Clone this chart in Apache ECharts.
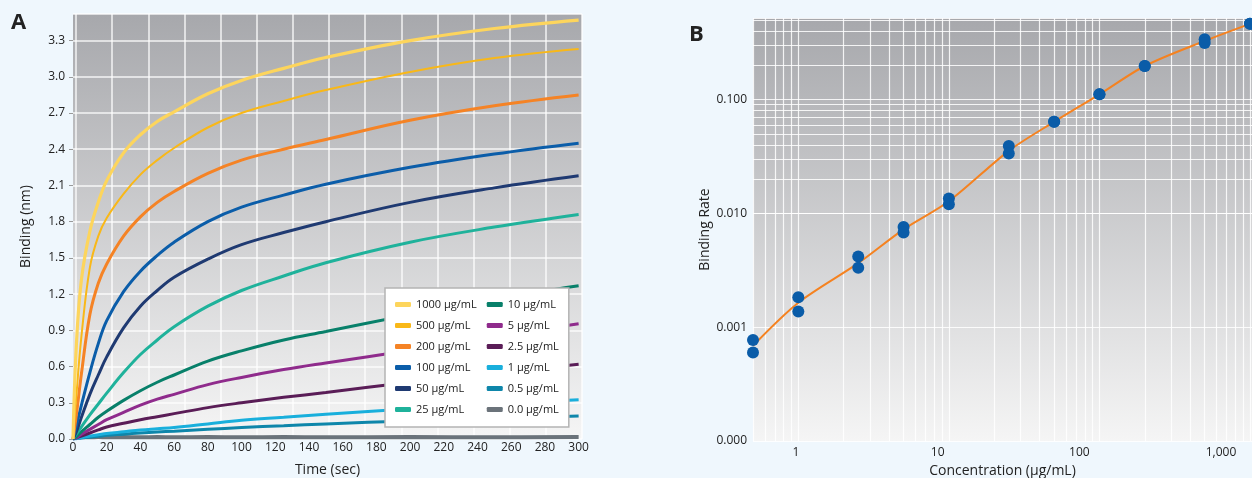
<!DOCTYPE html>
<html>
<head>
<meta charset="utf-8">
<script src="https://cdn.jsdelivr.net/npm/echarts@6.0.0/dist/echarts.min.js"></script>
<style>
  html, body { margin: 0; padding: 0; background: #eff7fd; }
  #chart { width: 1252px; height: 478px; }
</style>
</head>
<body>
<div id="chart"></div>
<script>
// ---- panel A: binding curves (nm) ----
var times = [0, 2, 5, 10, 15, 20, 30, 40, 50, 60, 80, 100, 125, 150, 200, 250, 300];
var conc1000 = [0, 0.78, 1.32, 1.72, 1.96, 2.14, 2.37, 2.52, 2.63, 2.71, 2.86, 2.97, 3.07, 3.16, 3.30, 3.40, 3.47];
var conc500 = [0, 0.36, 0.85, 1.42, 1.68, 1.83, 2.03, 2.19, 2.31, 2.41, 2.58, 2.70, 2.80, 2.89, 3.04, 3.155, 3.23];
var conc200 = [0, 0.20, 0.54, 1.03, 1.29, 1.45, 1.68, 1.84, 1.96, 2.05, 2.20, 2.31, 2.40, 2.48, 2.64, 2.76, 2.85];
var conc100 = [0, 0.11, 0.28, 0.55, 0.79, 0.98, 1.22, 1.39, 1.52, 1.63, 1.80, 1.92, 2.02, 2.11, 2.25, 2.36, 2.45];
var conc50 = [0, 0.06, 0.18, 0.37, 0.53, 0.68, 0.92, 1.10, 1.23, 1.34, 1.49, 1.61, 1.71, 1.80, 1.96, 2.08, 2.18];
var conc25 = [0, 0.04, 0.10, 0.20, 0.29, 0.38, 0.55, 0.70, 0.82, 0.93, 1.10, 1.23, 1.35, 1.46, 1.63, 1.755, 1.86];
var conc10 = [0, 0.02, 0.06, 0.12, 0.18, 0.23, 0.32, 0.40, 0.47, 0.53, 0.645, 0.73, 0.82, 0.89, 1.03, 1.16, 1.27];
var conc5 = [0, 0.01, 0.04, 0.08, 0.12, 0.16, 0.22, 0.28, 0.33, 0.37, 0.45, 0.51, 0.575, 0.63, 0.735, 0.85, 0.955];
var conc2_5 = [0, 0.01, 0.025, 0.05, 0.075, 0.10, 0.13, 0.16, 0.185, 0.21, 0.26, 0.30, 0.345, 0.385, 0.47, 0.545, 0.62];
var conc1 = [0, 0.005, 0.012, 0.025, 0.035, 0.045, 0.06, 0.075, 0.085, 0.095, 0.125, 0.155, 0.18, 0.205, 0.25, 0.29, 0.325];
var conc0_5 = [0, 0.003, 0.008, 0.015, 0.022, 0.03, 0.04, 0.05, 0.058, 0.065, 0.08, 0.095, 0.11, 0.125, 0.15, 0.17, 0.19];
var conc0 = [0.012, 0.014, 0.015, 0.015, 0.016, 0.015, 0.016, 0.015, 0.016, 0.015, 0.016, 0.015, 0.016, 0.015, 0.016, 0.015, 0.016];

var curveNames = ["1000 μg/mL", "500 μg/mL", "200 μg/mL", "100 μg/mL", "50 μg/mL", "25 μg/mL",
  "10 μg/mL", "5 μg/mL", "2.5 μg/mL", "1 μg/mL", "0.5 μg/mL", "0.0 μg/mL"];
var curveValues = [conc1000, conc500, conc200, conc100, conc50, conc25, conc10, conc5, conc2_5, conc1, conc0_5, conc0];
var curveColors = ["#fdd55c", "#f9b818", "#f58325", "#0b5da9", "#1f3a72", "#1fb29b",
  "#08806a", "#8f2b8c", "#5a1d57", "#19afdc", "#0e86aa", "#6b737a"];
var curveWidths = [3.2, 2, 3, 3, 3, 3, 3, 3, 3, 3, 3, 4];

// ---- panel B: binding rate vs concentration ----
var concentrations = [0.5, 1, 2.5, 5, 10, 25, 50, 100, 200, 500, 1000];
var rateRep1 = [0.00077, 0.00183, 0.00418, 0.00757, 0.0135, 0.039, 0.0637, 0.111, 0.197, 0.339, 0.462];
var rateRep2 = [0.0006, 0.00137, 0.00333, 0.0068, 0.012, 0.0336, 0.0637, 0.111, 0.197, 0.313, 0.462];
var fitRate = [0.000687, 0.00164, 0.00365, 0.00723, 0.01277, 0.0354, 0.0637, 0.111, 0.197, 0.327, 0.462];

var xTickLabels = { 1: "1", 10: "10", 100: "100", 1000: "1,000" };

var myChart = echarts.init(document.getElementById("chart"));

function plotBg() {
  return new echarts.graphic.LinearGradient(0, 0, 0, 1, [
    { offset: 0, color: "#a7a8ac" },
    { offset: 1, color: "#f5f5f5" },
  ]);
}
var font = "'Open Sans', 'Noto Sans', sans-serif";
var white = "rgba(255,255,255,0.85)";

var series = [];
curveNames.forEach(function (name, i) {
  series.push({
    name: name,
    type: "line",
    xAxisIndex: 0,
    yAxisIndex: 0,
    showSymbol: false,
    smooth: 0.4,
    z: 20 - i,
    color: curveColors[i],
    lineStyle: { width: curveWidths[i], color: curveColors[i] },
    data: times.map(function (t, k) { return [t, curveValues[i][k]]; }),
  });
});

// minor log grid lines for panel B
var minorX = [];
var minorY = [];
[0.1, 1, 10, 100].forEach(function (d) {
  for (var m = 2; m <= 9; m++) minorX.push(d * m);
});
[0.0001, 0.001, 0.01, 0.1].forEach(function (d) {
  for (var m = 2; m <= 9; m++) minorY.push(d * m);
});

series.push({
  name: "grid",
  type: "line",
  xAxisIndex: 2,
  yAxisIndex: 2,
  data: [],
  z: 1,
  markLine: {
    silent: true,
    symbol: "none",
    label: { show: false },
    lineStyle: { color: white, width: 1.2, type: "solid" },
    data: minorX.filter(function (v) { return v > 0.5; }).map(function (v) { return { xAxis: v }; })
      .concat(minorY.filter(function (v) { return v < 0.52; }).map(function (v) { return { yAxis: v }; })),
  },
});
series.push({
  name: "fit",
  type: "line",
  xAxisIndex: 2,
  yAxisIndex: 2,
  showSymbol: false,
  smooth: 0.3,
  z: 5,
  lineStyle: { color: "#f58220", width: 2 },
  data: concentrations.map(function (c, k) { return [c, fitRate[k]]; }),
});
series.push({
  name: "rate",
  type: "scatter",
  xAxisIndex: 2,
  yAxisIndex: 2,
  symbolSize: 12,
  z: 6,
  itemStyle: { color: "#0a5ca8", opacity: 1 },
  data: concentrations.map(function (c, k) { return [c, rateRep1[k]]; })
    .concat(concentrations.map(function (c, k) { return [c, rateRep2[k]]; })),
});

var option = {
  animation: false,
  backgroundColor: "#eff7fd",
  textStyle: { fontFamily: font },
  graphic: [
    // plot backgrounds, kept under the grid lines
    { type: "rect", z: -10, shape: { x: 73, y: 14, width: 509, height: 425 }, style: { fill: plotBg() } },
    { type: "rect", z: -10, shape: { x: 753, y: 18, width: 499, height: 423 }, style: { fill: plotBg() } },
    { type: "text", left: 11, top: 12, style: { text: "A", font: "bold 22px " + font, fill: "#222" } },
    { type: "text", left: 689, top: 24, style: { text: "B", font: "bold 22px " + font, fill: "#222" } },
  ],
  legend: {
    data: curveNames,
    orient: "vertical",
    left: 385,
    top: 288,
    height: 122,
    itemWidth: 16,
    itemHeight: 5,
    itemGap: 10,
    icon: "roundRect",
    padding: [11, 10, 12, 10],
    backgroundColor: "#ffffff",
    borderColor: "#b4b4b4",
    borderWidth: 1.5,
    borderRadius: 0,
    textStyle: { fontSize: 11, color: "#222", fontFamily: font },
    z: 30,
  },
  grid: [
    { left: 73, top: 14, width: 509, height: 425, outerBoundsMode: "none", containLabel: false },
    { left: 76, top: 14, width: 506, height: 425, outerBoundsMode: "none", containLabel: false },
    { left: 753, top: 18, width: 499, height: 423, outerBoundsMode: "none", containLabel: false },
  ],
  xAxis: [
    {
      gridIndex: 0,
      type: "value",
      min: 0,
      max: 302,
      interval: 20,
      name: "Time (sec)",
      nameLocation: "middle",
      nameGap: 24,
      nameTextStyle: { fontSize: 14, color: "#222" },
      axisLine: { show: false },
      axisTick: { show: false },
      splitLine: { show: false },
      axisLabel: { margin: 3, fontSize: 12, color: "#222", showMaxLabel: false },
    },
    {
      gridIndex: 1,
      type: "value",
      min: 0,
      max: 14,
      interval: 1,
      axisLine: { show: false },
      axisTick: { show: false },
      axisLabel: { show: false },
      splitLine: { show: true, lineStyle: { color: white, width: 1.5 } },
    },
    {
      gridIndex: 2,
      type: "log",
      min: 0.5,
      max: 1031,
      axisLine: { show: false },
      axisTick: { show: false },
      axisLabel: { show: false },
      splitLine: { show: true, lineStyle: { color: white, width: 1.2 } },
    },
    {
      gridIndex: 2,
      type: "log",
      min: 0.497,
      max: 1656,
      position: "bottom",
      name: "Concentration (μg/mL)",
      nameLocation: "middle",
      nameGap: 22,
      nameTextStyle: { fontSize: 14, color: "#222" },
      axisLine: { show: false },
      axisTick: { show: false },
      splitLine: { show: false },
      axisLabel: {
        margin: 6,
        fontSize: 12,
        color: "#222",
        showMinLabel: false,
        showMaxLabel: false,
        formatter: function (v) {
          var r = Math.round(v);
          return xTickLabels[r] || "";
        },
      },
    },
  ],
  yAxis: [
    {
      gridIndex: 0,
      type: "value",
      min: 0,
      max: 3.52,
      interval: 0.3,
      name: "Binding (nm)",
      nameLocation: "middle",
      nameGap: 40,
      nameTextStyle: { fontSize: 14, color: "#222" },
      axisLine: { show: false },
      axisTick: { show: true, length: 4, lineStyle: { color: "#999" } },
      splitLine: { show: true, lineStyle: { color: white, width: 1.5 } },
      axisLabel: {
        margin: 8,
        fontSize: 12,
        color: "#222",
        showMaxLabel: false,
        formatter: function (v) { return v.toFixed(1); },
      },
    },
    { gridIndex: 1, type: "value", min: 0, max: 1, show: false },
    {
      gridIndex: 2,
      type: "log",
      min: 0.0001,
      max: 0.52,
      name: "Binding Rate",
      nameLocation: "middle",
      nameGap: 40,
      nameTextStyle: { fontSize: 14, color: "#222" },
      axisLine: { show: false },
      axisTick: { show: false },
      splitLine: { show: true, lineStyle: { color: white, width: 1.2 } },
      axisLabel: {
        margin: 6,
        fontSize: 12,
        color: "#222",
        showMaxLabel: false,
        formatter: function (v) { return v.toFixed(3); },
      },
    },
  ],
  series: series,
};

myChart.setOption(option);
</script>
</body>
</html>
